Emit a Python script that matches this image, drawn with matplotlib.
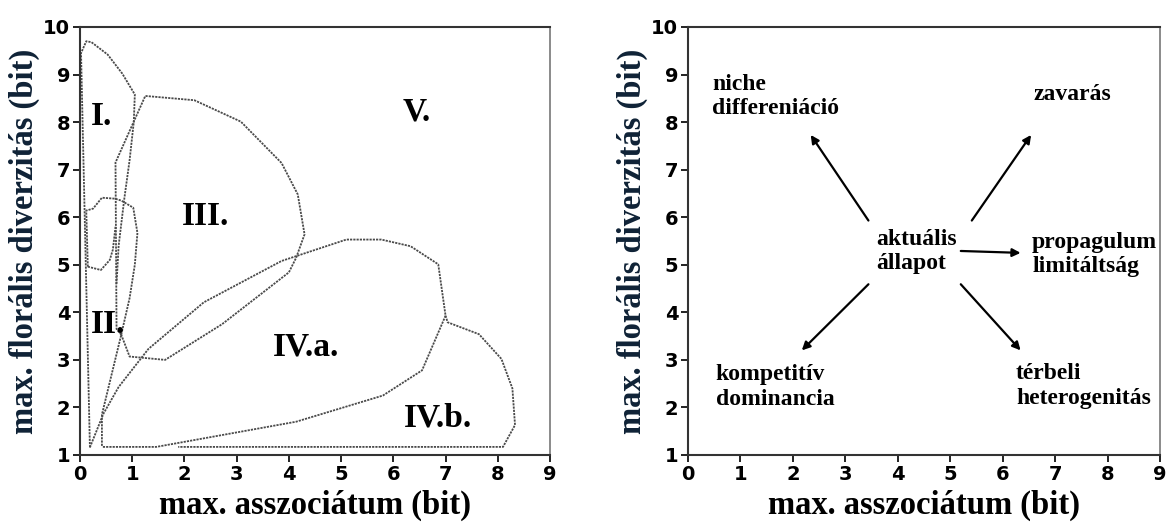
import matplotlib.pyplot as plt

# --- region outlines (max. asszociátum, max. florális diverzitás) ---
region_I = [(0.19, 1.16), (0.02, 9.45), (0.12, 9.70), (0.22, 9.68), (0.53, 9.42),
            (0.81, 9.02), (1.05, 8.58), (1.03, 8.00), (0.95, 7.20), (0.85, 6.40),
            (0.74, 5.40), (0.70, 4.60)]
region_II = [(0.15, 4.96), (0.12, 6.14), (0.25, 6.18), (0.42, 6.41), (0.67, 6.39),
             (0.79, 6.35), (1.02, 6.20), (1.10, 5.67), (1.05, 5.00), (0.95, 4.30),
             (0.79, 3.53), (0.42, 1.85), (0.42, 1.17)]
region_II_low = [(0.15, 4.96), (0.40, 4.89), (0.57, 5.10), (0.63, 5.32), (0.68, 5.80)]
region_III = [(0.79, 3.53), (0.70, 3.65), (0.68, 7.15), (1.25, 8.55), (2.19, 8.46),
              (3.08, 8.01), (3.86, 7.14), (4.17, 6.48), (4.30, 5.64), (4.14, 5.15),
              (4.00, 4.84), (2.72, 3.75), (1.63, 3.00), (0.95, 3.07), (0.79, 3.53)]
region_IVa = [(0.19, 1.16), (0.45, 1.87), (0.74, 2.43), (1.31, 3.23), (2.37, 4.21),
              (3.86, 5.08), (5.10, 5.53), (5.77, 5.53), (6.33, 5.39), (6.86, 5.01),
              (7.00, 3.93), (6.55, 2.78), (5.80, 2.25), (4.14, 1.70), (1.46, 1.17),
              (0.42, 1.17)]
region_IVb = [(7.00, 3.93), (7.04, 3.79), (7.64, 3.54), (8.07, 3.02), (8.28, 2.40),
              (8.33, 1.63), (8.10, 1.17), (1.88, 1.17)]
outlines = [region_I, region_II, region_II_low, region_III, region_IVa, region_IVb]

region_names = ['I.', 'II.', 'III.', 'IV.a.', 'IV.b.', 'V.']
region_x = [0.42, 0.53, 2.40, 4.32, 6.86, 6.44]
region_y = [8.12, 3.75, 6.02, 3.27, 1.77, 8.22]

# --- processes around the current state ---
state_text = 'aktuális\nállapot'
state_xy = (3.58, 5.28)
process_names = ['niche\ndiffereniáció', 'zavarás', 'propagulum\nlimitáltság',
                 'kompetitív\ndominancia', 'térbeli\nheterogenitás']
process_xy = [(0.46, 8.53), (6.58, 8.58), (6.56, 5.22), (0.53, 2.43), (6.25, 2.45)]
arrow_tail = [(3.44, 5.93), (5.41, 5.93), (5.20, 5.29), (3.44, 4.59), (5.20, 4.59)]
arrow_head = [(2.34, 7.73), (6.54, 7.73), (6.34, 5.25), (2.17, 3.20), (6.34, 3.20)]

xticks = list(range(0, 10))
yticks = list(range(1, 11))

serif = 'Liberation Serif'
sans = 'DejaVu Sans'

fig = plt.figure(figsize=(11.66, 5.24), dpi=100)
ax1 = fig.add_axes([0.0686, 0.1317, 0.4031, 0.8168])
ax2 = fig.add_axes([0.5900, 0.1317, 0.4050, 0.8168])

for ax in (ax1, ax2):
    ax.set_xlim(0, 9)
    ax.set_ylim(1, 10)
    ax.set_xticks(xticks)
    ax.set_yticks(yticks)
    ax.tick_params(direction='out', length=5, width=1.4, color='#222222', pad=2)
    for lab in ax.get_xticklabels() + ax.get_yticklabels():
        lab.set_fontfamily(sans)
        lab.set_fontweight('heavy')
        lab.set_fontsize(14)
    for side in ax.spines:
        ax.spines[side].set_color('#333333')
        ax.spines[side].set_linewidth(1.5)
    ax.spines['right'].set_color('#777777')
    ax.spines['right'].set_linewidth(1.2)
    ax.set_xlabel('max. asszociátum (bit)', fontfamily=serif, fontweight='bold',
                  fontsize=23.5, labelpad=4)
    ax.set_ylabel('max. florális diverzitás (bit)', fontfamily=serif, fontweight='bold',
                  fontsize=23.5, color='#0f2236', labelpad=2)

# left: dotted region outlines
for pts in outlines:
    xs = [p[0] for p in pts]
    ys = [p[1] for p in pts]
    ax1.plot(xs, ys, color='#4a4a4a', lw=1.3, ls=(0, (1.2, 0.6)), clip_on=False)

for name, x, y in zip(region_names, region_x, region_y):
    ax1.text(x, y, name, fontfamily=serif, fontweight='bold', fontsize=24,
             ha='center', va='center', color='black')

# right: current state and the directions it can move
ax2.text(state_xy[0], state_xy[1], state_text, fontfamily=serif, fontweight='bold',
         fontsize=17, ha='left', va='center', linespacing=1.2)
for name, (x, y) in zip(process_names, process_xy):
    ax2.text(x, y, name, fontfamily=serif, fontweight='bold', fontsize=17,
             ha='left', va='center', linespacing=1.2)
for t, h in zip(arrow_tail, arrow_head):
    ax2.annotate('', xy=h, xytext=t,
                 arrowprops=dict(arrowstyle='-|>', color='black', lw=1.6,
                                 mutation_scale=12, shrinkA=0, shrinkB=0))

fig.savefig('out.png', dpi=100)
